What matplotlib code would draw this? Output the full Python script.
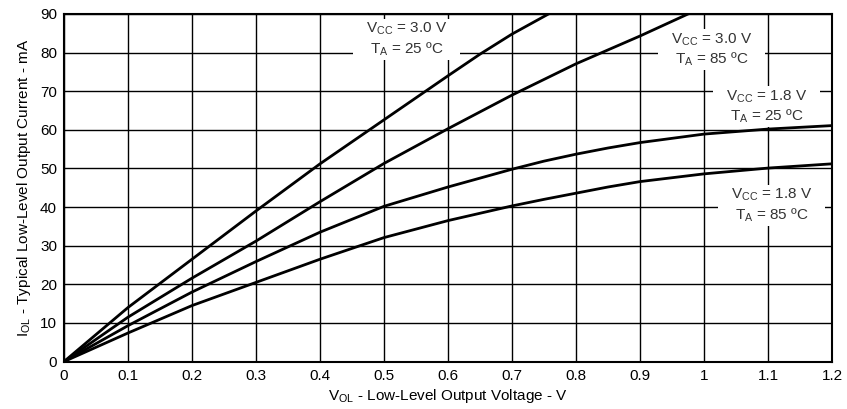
import matplotlib.pyplot as plt
from matplotlib.patches import Rectangle

plt.rcParams['font.family'] = ['Liberation Sans', 'DejaVu Sans']
plt.rcParams['mathtext.fontset'] = 'custom'
plt.rcParams['mathtext.rm'] = 'Liberation Sans'

# (V, mA)
vol_30_25 = [0, 0.1, 0.2, 0.3, 0.4, 0.5, 0.6, 0.65, 0.7, 0.757]
iol_30_25 = [0, 14.0, 26.5, 39.0, 51.2, 62.6, 74.0, 79.6, 84.8, 90.0]

vol_30_85 = [0, 0.1, 0.2, 0.3, 0.4, 0.5, 0.6, 0.7, 0.8, 0.9, 0.975]
iol_30_85 = [0, 11.5, 21.6, 31.2, 41.4, 51.3, 60.3, 69.0, 77.1, 84.3, 90.0]

vol_18 = [0, 0.1, 0.2, 0.3, 0.4, 0.5, 0.6, 0.65, 0.7, 0.75, 0.8, 0.85, 0.9, 1.0, 1.1, 1.2]
iol_18_25 = [0, 9.3, 18.0, 25.9, 33.5, 40.2, 45.2, 47.5, 49.8, 51.9, 53.7, 55.3, 56.7, 58.9, 60.2, 61.1]
iol_18_85 = [0, 7.4, 14.5, 20.5, 26.5, 32.1, 36.5, 38.4, 40.3, 42.0, 43.6, 45.2, 46.6, 48.6, 50.1, 51.2]

labels = [
    ('V$_{\\mathrm{CC}}$ = 3.0 V\nT$_{\\mathrm{A}}$ = 25 ºC', 0.535, 83.5),
    ('V$_{\\mathrm{CC}}$ = 3.0 V\nT$_{\\mathrm{A}}$ = 85 ºC', 1.012, 80.7),
    ('V$_{\\mathrm{CC}}$ = 1.8 V\nT$_{\\mathrm{A}}$ = 25 ºC', 1.098, 66.0),
    ('V$_{\\mathrm{CC}}$ = 1.8 V\nT$_{\\mathrm{A}}$ = 85 ºC', 1.106, 40.5),
]

xticks = [0, 0.1, 0.2, 0.3, 0.4, 0.5, 0.6, 0.7, 0.8, 0.9, 1.0, 1.1, 1.2]
xticklabels = ['0', '0.1', '0.2', '0.3', '0.4', '0.5', '0.6', '0.7', '0.8', '0.9', '1', '1.1', '1.2']
yticks = list(range(0, 91, 10))

fig = plt.figure(figsize=(8.47, 4.09), dpi=100)
ax = fig.add_axes([0.0756, 0.116, 0.9067, 0.8498])

for v, i in [(vol_30_25, iol_30_25), (vol_30_85, iol_30_85),
             (vol_18, iol_18_25), (vol_18, iol_18_85)]:
    ax.plot(v, i, color='black', linewidth=2.0, solid_joinstyle='round', zorder=3)

texts = []
for txt, x, y in labels:
    t = ax.text(x, y, txt, ha='center', va='center', fontsize=11, color='#333333',
                linespacing=1.2, zorder=5)
    texts.append(t)

ax.set_xlim(0, 1.2)
ax.set_ylim(0, 90)
ax.set_xticks(xticks)
ax.set_xticklabels(xticklabels)
ax.set_yticks(yticks)
ax.tick_params(length=0, labelsize=11, pad=5)
ax.grid(True, color='black', linewidth=1.0)
ax.set_axisbelow(True)
for s in ax.spines.values():
    s.set_linewidth(1.5)

ax.set_xlabel('V$_{\\mathrm{OL}}$ - Low-Level Output Voltage - V', fontsize=11, labelpad=3)
ax.set_ylabel('I$_{\\mathrm{OL}}$ - Typical Low-Level Output Current - mA', fontsize=11, labelpad=5)

# white boxes behind the labels (over the grid, under the curves)
fig.canvas.draw()
renderer = fig.canvas.get_renderer()
inv = ax.transData.inverted()
for t in texts:
    bb = t.get_window_extent(renderer)
    (x0, y0), (x1, y1) = inv.transform([(bb.x0 - 13, bb.y0 - 2), (bb.x1 + 13, bb.y1 + 2)])
    ax.add_patch(Rectangle((x0, y0), x1 - x0, y1 - y0, facecolor='white',
                           edgecolor='none', zorder=2))

fig.savefig('out.png', dpi=100)
